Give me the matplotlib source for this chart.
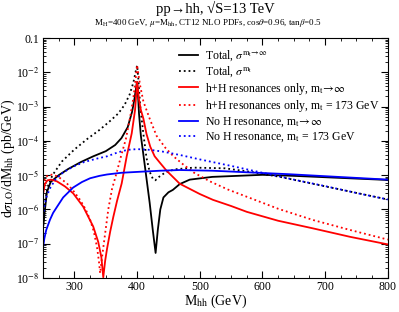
import numpy as np
import matplotlib
matplotlib.use("Agg")
import matplotlib.pyplot as plt
from matplotlib.ticker import MultipleLocator, LogLocator, FuncFormatter

plt.rcParams['font.family'] = ['Liberation Serif', 'DejaVu Serif']
plt.rcParams['mathtext.fontset'] = 'stix'

# ---- data: M_hh (GeV) and log10(dsigma/dM) ----
m_tot_inf = [250.5, 253, 256, 262, 275, 290, 310, 330, 350, 365, 375, 385, 392, 396, 398,
             399.5, 400, 401, 403, 406, 410, 415, 420, 425, 429.5, 433, 437, 442, 450, 457,
             468, 484, 520, 600, 650, 700, 750, 800]
lg_tot_inf = [-6.45, -6.0, -5.5, -5.2, -5.0, -4.82, -4.62, -4.45, -4.3, -4.12, -3.92, -3.6, -3.15,
              -2.75, -2.5, -2.3, -2.28, -2.5, -3.2, -3.85, -4.4, -5.1, -5.8, -6.6, -7.27, -6.6,
              -6.0, -5.65, -5.5, -5.43, -5.26, -5.13, -5.05, -4.99, -5.02, -5.06, -5.1, -5.14]

m_tot_mt = [250.5, 253, 257, 265, 280, 300, 320, 340, 355, 370, 380, 388, 394, 398, 400,
            402, 405, 410, 415, 420, 425, 429, 435, 445, 460, 490, 540, 580, 628, 680, 740, 800]
lg_tot_mt = [-6.3, -5.8, -5.35, -5.0, -4.6, -4.25, -3.95, -3.68, -3.45, -3.2, -2.95, -2.65, -2.3,
             -1.95, -1.8, -2.2, -3.0, -3.8, -4.5, -4.9, -5.1, -5.15, -5.05, -4.92, -4.83, -4.78,
             -4.8, -4.9, -5.05, -5.25, -5.48, -5.71]

m_res_inf = [250.5, 253, 257, 263, 272, 285, 298, 314, 330, 338, 343, 346, 349, 352, 357, 362,
             368, 375.4, 383.4, 391.4, 396.7, 398.8, 400, 401, 403, 406, 410, 415, 421, 428,
             436.5, 447, 457, 468, 484, 500, 521, 550, 575, 625, 680, 740, 800]
lg_res_inf = [-5.5, -5.25, -5.15, -5.13, -5.18, -5.33, -5.53, -5.92, -6.5, -6.95, -7.4, -7.98,
              -7.5, -7.15, -6.65, -6.22, -5.75, -5.24, -4.45, -3.78, -3.1, -2.6, -2.28, -2.45,
              -2.8, -3.1, -3.35, -3.8, -4.17, -4.45, -4.64, -4.87, -5.05, -5.25, -5.4, -5.55,
              -5.72, -5.9, -6.07, -6.33, -6.55, -6.8, -7.02]

m_res_mt = [250.5, 253, 258, 266, 276, 288, 298, 309, 318, 325, 331, 336, 339, 341, 344, 349,
            354, 360, 367, 375, 382, 389, 394, 397, 400, 402, 405, 410, 420, 431, 445, 458,
            473, 490, 516, 545, 575, 625, 681, 740, 800]
lg_res_mt = [-5.3, -5.08, -5.0, -4.98, -5.07, -5.24, -5.45, -5.72, -6.0, -6.3, -6.65, -7.1, -7.5,
             -7.86, -7.4, -6.7, -6.0, -5.4, -4.95, -4.4, -3.95, -3.3, -2.75, -2.3, -1.79, -2.05,
             -2.4, -2.85, -3.35, -3.85, -4.2, -4.45, -4.68, -4.92, -5.18, -5.42, -5.63, -5.98,
             -6.31, -6.6, -6.88]

m_noH_inf = [250, 252, 255, 261, 266, 272, 282, 298, 312, 325, 340, 352, 375, 405, 437, 468,
             520, 580, 640, 700, 760, 800]
lg_noH_inf = [-7.1, -6.85, -6.6, -6.3, -6.1, -5.93, -5.65, -5.36, -5.2, -5.09, -5.02, -4.98,
              -4.93, -4.9, -4.87, -4.85, -4.87, -4.92, -4.97, -5.03, -5.09, -5.13]

m_noH_mt = [250, 252, 256, 262, 270, 282, 298, 315, 335, 352, 370, 385, 400, 420, 440, 468,
            500, 550, 600, 650, 700, 750, 800]
lg_noH_mt = [-6.2, -5.9, -5.6, -5.35, -5.12, -4.92, -4.75, -4.62, -4.52, -4.45, -4.33, -4.26,
             -4.24, -4.26, -4.31, -4.41, -4.54, -4.73, -4.93, -5.13, -5.32, -5.52, -5.71]

curves = [
    (m_tot_inf, lg_tot_inf, 'black', '-', r'Total, $\sigma^{\mathrm{m_t\!\rightarrow\!\infty}}$'),
    (m_tot_mt, lg_tot_mt, 'black', ':', r'Total, $\sigma^{\mathrm{m_t}}$'),
    (m_res_inf, lg_res_inf, 'red', '-', r'h+H resonances only, m$_\mathrm{t}\!\rightarrow\!\infty$'),
    (m_res_mt, lg_res_mt, 'red', ':', r'h+H resonances only, m$_\mathrm{t}$ = 173 GeV'),
    (m_noH_inf, lg_noH_inf, 'blue', '-', r'No H resonance, m$_\mathrm{t}\!\rightarrow\!\infty$'),
    (m_noH_mt, lg_noH_mt, 'blue', ':', r'No H resonance, m$_\mathrm{t}$ = 173 GeV'),
]

fig = plt.figure(figsize=(3.99, 3.12), dpi=100)
ax = fig.add_axes([0.108, 0.109, 0.864, 0.769])

for m, lg, col, ls, lab in curves:
    ax.plot(m, 10.0 ** np.array(lg), color=col, ls=ls, lw=1.3, label=lab)

ax.set_yscale('log')
ax.set_xlim(250, 800)
ax.set_ylim(1e-8, 0.1)

ax.xaxis.set_major_locator(MultipleLocator(100))
ax.xaxis.set_minor_locator(MultipleLocator(25))
ax.yaxis.set_major_locator(LogLocator(base=10, numticks=20))
ax.yaxis.set_minor_locator(LogLocator(base=10, subs=np.arange(2, 10), numticks=20))


def yfmt(v, pos):
    e = int(round(np.log10(v)))
    if e == -1:
        return '0.1'
    return r'10$^{%d}$' % e


ax.yaxis.set_major_formatter(FuncFormatter(yfmt))
ax.tick_params(which='both', direction='in', top=True, right=True, labelsize=8.5, pad=2.5)
ax.tick_params(which='major', length=5)
ax.tick_params(which='minor', length=2.5)

ax.set_xlabel(r'M$_\mathrm{hh}$ (GeV)', fontsize=10)
ax.set_ylabel(r'd$\sigma_\mathrm{LO}$/dM$_\mathrm{hh}$ (pb/GeV)', fontsize=10)
ax.xaxis.set_label_coords(0.5, -0.062)
ax.yaxis.set_label_coords(-0.075, 0.5)

fig.text(0.54, 0.972, 'pp\u2192hh, \u221aS=13 TeV', ha='center', va='center', fontsize=10.5)
fig.text(0.52, 0.927, r'M$_\mathrm{H}$=400 GeV, $\mu$=M$_\mathrm{hh}$, CT12 NLO PDFs, cos$\theta$=0.96, tan$\beta$=0.5',
         ha='center', va='center', fontsize=6.5)

ax.legend(loc='upper left', bbox_to_anchor=(0.37, 0.99), frameon=False, fontsize=8.5,
          handlelength=1.6, handletextpad=0.6, labelspacing=0.12, borderpad=0.2)

fig.savefig('out.png', dpi=100)
